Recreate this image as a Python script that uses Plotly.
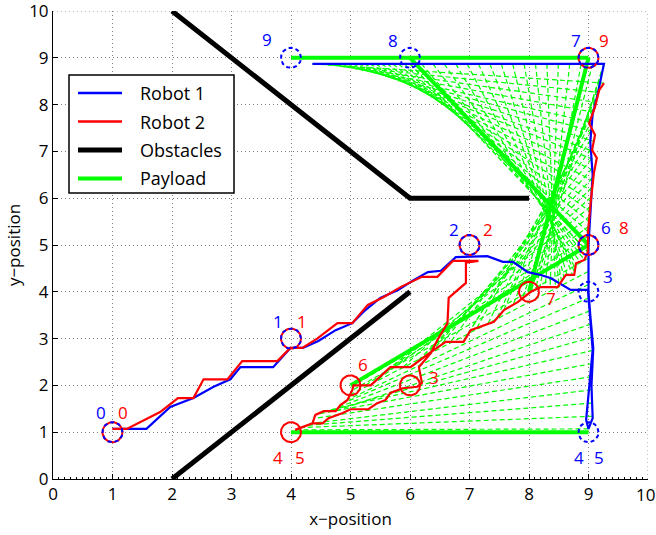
import numpy as np
import plotly.graph_objects as go

# ---------------------------------------------------------------- data
# Waypoints visited by each robot (index = waypoint number)
robot1_wp_x = [1, 4, 7, 9, 9, 9, 9, 9, 6, 4]
robot1_wp_y = [1, 3, 5, 4, 1, 1, 5, 9, 9, 9]
robot2_wp_x = [1, 4, 7, 6, 4, 4, 5, 8, 9, 9]
robot2_wp_y = [1, 3, 5, 2, 1, 1, 2, 4, 5, 9]

# Executed trajectories, one list per leg (leg k goes from waypoint k to k+1)
robot1_legs_x = [
    [1.0, 1.57, 1.97, 2.36, 2.7, 2.98, 3.15, 3.7, 3.99, 4.2],
    [4.2, 4.46, 4.75, 5.03, 5.25, 5.5, 5.8, 6.06, 6.3, 6.52, 6.77, 7.3],
    [7.3, 7.56, 7.73, 7.98, 8.2, 8.37, 8.7, 8.99],
    [8.99, 9.07, 9.0, 8.96, 9.0],
    [],
    [9.0, 9.07, 9.05, 9.08, 9.03, 9.0, 9.0],
    [9.0, 9.04, 9.07, 9.03, 9.07, 9.15, 9.2, 9.26],
    [9.26, 6.0],
    [6.0, 4.36],
]
robot1_legs_y = [
    [1.07, 1.07, 1.54, 1.73, 1.97, 2.13, 2.39, 2.39, 2.8, 2.8],
    [2.8, 2.95, 3.18, 3.33, 3.61, 3.87, 4.04, 4.25, 4.42, 4.45, 4.74, 4.76],
    [4.76, 4.64, 4.64, 4.42, 4.36, 4.29, 4.04, 4.04],
    [4.04, 2.76, 1.9, 1.26, 1.07],
    [],
    [1.07, 1.3, 2.0, 2.8, 3.5, 4.0, 5.0],
    [5.0, 6.0, 6.5, 7.2, 7.8, 8.2, 8.5, 8.87],
    [8.87, 8.87],
    [8.87, 8.87],
]

robot2_legs_x = [
    [1.0, 1.24, 1.8, 2.1, 2.36, 2.53, 2.93, 3.18, 3.77, 3.99, 4.19],
    [4.19, 4.44, 4.78, 5.03, 5.29, 5.56, 5.84, 6.2, 6.46, 6.72, 7.15],
    [7.15, 6.94, 6.94, 6.65, 6.63, 6.46, 6.35, 6.15, 6.2],
    [6.2, 6.12, 5.88, 5.67, 5.59, 5.45, 5.3, 5.0, 4.87, 4.63, 4.53, 4.36, 4.19, 4.07],
    [],
    [4.07, 4.19, 4.36, 4.41, 4.55, 4.75, 4.83, 4.95, 5.03, 5.05],
    [5.05, 5.34, 5.67, 6.01, 6.35, 6.6, 6.9, 7.02, 7.41, 7.58, 7.81, 8.03],
    [8.03, 8.2, 8.48, 8.62, 8.76, 8.79, 8.93, 8.99],
    [8.99, 8.99, 9.04, 9.09, 9.14, 9.06, 9.11, 9.01, 9.11, 9.18, 9.26],
]
robot2_legs_y = [
    [1.07, 1.07, 1.43, 1.73, 1.73, 2.13, 2.13, 2.52, 2.52, 2.8, 2.8],
    [2.8, 3.0, 3.33, 3.33, 3.72, 3.89, 4.1, 4.32, 4.32, 4.66, 4.66],
    [4.66, 4.62, 4.19, 3.87, 3.33, 2.97, 2.69, 2.39, 2.05],
    [2.05, 1.97, 1.94, 1.84, 1.69, 1.62, 1.49, 1.49, 1.41, 1.30, 1.19, 1.19, 1.11, 1.05],
    [],
    [1.05, 1.11, 1.19, 1.37, 1.45, 1.45, 1.58, 1.69, 1.9, 2.0],
    [2.0, 2.0, 2.39, 2.39, 2.71, 2.93, 2.93, 3.18, 3.36, 3.61, 3.78, 4.0],
    [4.0, 4.1, 4.1, 4.36, 4.36, 4.61, 4.68, 4.85],
    [4.85, 5.26, 5.96, 6.53, 6.86, 7.03, 7.35, 7.6, 7.95, 8.31, 8.46],
]

# Obstacle walls
obstacle_x = [[2, 6, 8], [2, 6]]
obstacle_y = [[10, 6, 6], [0, 4]]

# Payload is carried from waypoint 5 on; number of recorded snapshots per leg
payload_start = 5
payload_snapshots = {5: 15, 6: 20, 7: 18, 8: 18}

# axis ticks
tick_values = list(range(0, 11))
tick_labels = [str(v) for v in tick_values]

# ---------------------------------------------------------------- styles
W, H = 656, 535
M = dict(l=53, r=8, t=11, b=56)
PW, PH = W - M["l"] - M["r"], H - M["t"] - M["b"]
XR, YR = (0, 10), (0, 10)
FONT = "Open Sans"
BLUE, RED, GREEN, BLACK = "#0000ff", "#ff0000", "#00ff00", "#000000"
GRID = dict(color="#7f7f7f", width=1, dash="1px,3px")
TICKFONT = dict(family=FONT, size=17, color="black")

# label offsets in pixels (dx right, dy down) from each waypoint
blue_label_off = [(-12, -20), (-13, -17), (-16, -16), (19, -15), (-10, 25),
                  (10, 25), (17, -18), (-13, -17), (-17, -17), (-24, -18)]
red_label_off = [(10, -20), (11, -17), (18, -16), (24, -8), (-13, 25),
                 (9, 25), (12, -21), (22, 7), (35, -18), (15, -17)]
RING_PX = 10


def joined(xs_list, ys_list):
    """Concatenate legs into one polyline."""
    xs, ys = [], []
    for lx, ly in zip(xs_list, ys_list):
        if not lx:
            continue
        if xs and (xs[-1], ys[-1]) == (lx[0], ly[0]):
            lx, ly = lx[1:], ly[1:]
        xs += list(lx)
        ys += list(ly)
    return xs, ys


def along(xs, ys, fr):
    """Positions at fractions of the travelled distance along a polyline."""
    xs, ys = np.asarray(xs, float), np.asarray(ys, float)
    s = np.concatenate([[0], np.cumsum(np.hypot(np.diff(xs), np.diff(ys)))])
    t = fr * s[-1]
    return np.interp(t, s, xs), np.interp(t, s, ys)


def rings(cx, cy):
    th = np.linspace(0, 2 * np.pi, 73)
    kx = RING_PX * (XR[1] - XR[0]) / PW
    ky = RING_PX * (YR[1] - YR[0]) / PH
    xs, ys = [], []
    for x0, y0 in sorted(set(zip(cx, cy))):
        xs += list(x0 + kx * np.cos(th)) + [None]
        ys += list(y0 + ky * np.sin(th)) + [None]
    return xs, ys


fig = go.Figure()

# payload snapshots while moving (thin dashed)
px, py = [], []
for leg, n in payload_snapshots.items():
    fr = np.linspace(0, 1, n)
    ax_, ay_ = along(robot1_legs_x[leg], robot1_legs_y[leg], fr)
    bx_, by_ = along(robot2_legs_x[leg], robot2_legs_y[leg], fr)
    for a1, a2, b1, b2 in zip(ax_, ay_, bx_, by_):
        px += [a1, b1, None]
        py += [a2, b2, None]
fig.add_trace(go.Scatter(x=px, y=py, mode="lines", hoverinfo="skip",
                         line=dict(color=GREEN, width=1.2, dash="5px,3px")))

# payload at the waypoints (thick)
qx, qy = [], []
for i in range(payload_start, len(robot1_wp_x)):
    qx += [robot1_wp_x[i], robot2_wp_x[i], None]
    qy += [robot1_wp_y[i], robot2_wp_y[i], None]
fig.add_trace(go.Scatter(x=qx, y=qy, mode="lines", name="Payload",
                         line=dict(color=GREEN, width=4)))

# robot trajectories
r1x, r1y = joined(robot1_legs_x, robot1_legs_y)
r2x, r2y = joined(robot2_legs_x, robot2_legs_y)
fig.add_trace(go.Scatter(x=r1x, y=r1y, mode="lines", name="Robot 1",
                         line=dict(color=BLUE, width=2.2)))
fig.add_trace(go.Scatter(x=r2x, y=r2y, mode="lines", name="Robot 2",
                         line=dict(color=RED, width=2.2)))

# obstacles
ox, oy = [], []
for lx, ly in zip(obstacle_x, obstacle_y):
    ox += lx + [None]
    oy += ly + [None]
fig.add_trace(go.Scatter(x=ox, y=oy, mode="lines", name="Obstacles",
                         line=dict(color=BLACK, width=5)))

# waypoint rings: solid red for robot 2, dashed blue for robot 1
rx, ry = rings(robot2_wp_x, robot2_wp_y)
fig.add_trace(go.Scatter(x=rx, y=ry, mode="lines", hoverinfo="skip",
                         line=dict(color=RED, width=2)))
bx, by = rings(robot1_wp_x, robot1_wp_y)
fig.add_trace(go.Scatter(x=bx, y=by, mode="lines", hoverinfo="skip",
                         line=dict(color=BLUE, width=2, dash="4px,3px")))
fig.update_traces(showlegend=False)

# waypoint numbers
ann = []
for wx, wy, offs, col in ((robot1_wp_x, robot1_wp_y, blue_label_off, BLUE),
                          (robot2_wp_x, robot2_wp_y, red_label_off, RED)):
    for i, (x0, y0) in enumerate(zip(wx, wy)):
        dx, dy = offs[i]
        ann.append(dict(x=x0, y=y0, xref="x", yref="y", text=str(i),
                        showarrow=False, xshift=dx, yshift=-dy,
                        xanchor="center", yanchor="middle",
                        font=dict(family=FONT, size=17, color=col)))

# last x tick label nudged inward so it stays inside the page
ann.append(dict(x=tick_values[-1], y=0, xref="x", yref="paper",
                text=tick_labels[-1], showarrow=False, xanchor="right",
                yanchor="top", xshift=9, yshift=-2, font=TICKFONT))


# legend box drawn in pixel units of the plot area
def pxx(v):
    return (v - M["l"]) / PW


def pxy(v):
    return (H - M["b"] - v) / PH


# dotted grid along the far (right and top) edges of the axes box
shapes = [
    dict(type="line", xref="x", yref="paper", x0=XR[1], x1=XR[1], y0=0, y1=1,
         line=GRID, layer="below"),
    dict(type="line", xref="paper", yref="y", x0=0, x1=1, y0=YR[1], y1=YR[1],
         line=GRID, layer="below"),
]
shapes.append(dict(type="rect", xref="paper", yref="paper",
                   x0=pxx(69), x1=pxx(234), y0=pxy(193), y1=pxy(75),
                   fillcolor="white", line=dict(color="black", width=1.5),
                   layer="above"))
legend_items = [("Robot 1", BLUE, 2.5), ("Robot 2", RED, 2.5),
                ("Obstacles", BLACK, 5), ("Payload", GREEN, 4)]
for k, (name, col, w) in enumerate(legend_items):
    yc = 93 + k * 28.5
    shapes.append(dict(type="line", xref="paper", yref="paper",
                       x0=pxx(78), x1=pxx(122), y0=pxy(yc), y1=pxy(yc),
                       line=dict(color=col, width=w), layer="above"))
    ann.append(dict(x=pxx(138), y=pxy(yc), xref="paper", yref="paper",
                    text=name, showarrow=False, xanchor="left",
                    yanchor="middle",
                    font=dict(family=FONT, size=18, color="black")))

axis_common = dict(
    tickmode="array", tickvals=tick_values, automargin=False,
    showgrid=True, gridcolor=GRID["color"],
    griddash=GRID["dash"], gridwidth=1, showline=True, linecolor="black",
    linewidth=1, ticks="inside", ticklen=5, tickcolor="black",
    zeroline=False, mirror=False, ticklabeloverflow="allow",
    tickfont=TICKFONT,
)

fig.update_layout(
    width=W, height=H, margin=dict(**M, autoexpand=False),
    plot_bgcolor="white", paper_bgcolor="white",
    shapes=shapes, annotations=ann, showlegend=False,
    xaxis=dict(**axis_common, range=list(XR),
               ticktext=tick_labels[:-1] + [""],
               title=dict(text="x\u2212position", standoff=8,
                          font=dict(family=FONT, size=17, color="black")),
               minor=dict(dtick=0.1, tick0=0, ticklen=2, ticks="inside",
                          tickcolor="black", showgrid=False)),
    yaxis=dict(**axis_common, range=list(YR), ticktext=tick_labels,
               title=dict(text="y\u2212position", standoff=4,
                          font=dict(family=FONT, size=17, color="black"))),
)

fig.write_html("out.html")
